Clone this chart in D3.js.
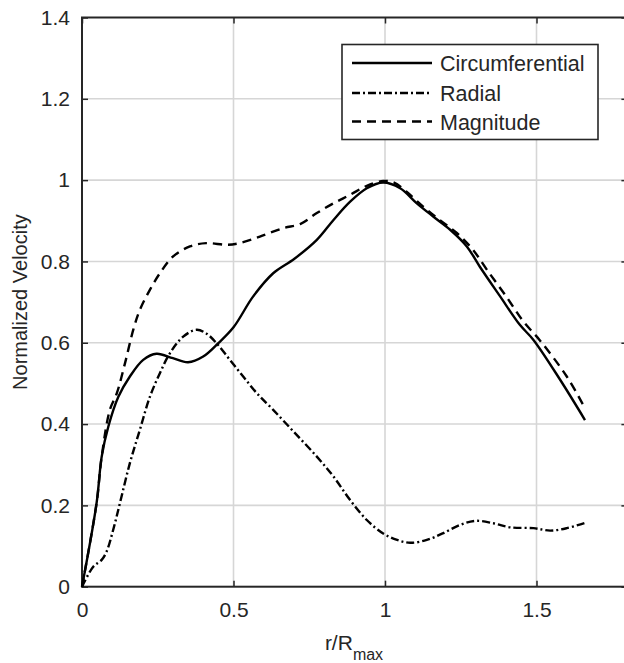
<!DOCTYPE html>
<html>
<head>
<meta charset="utf-8">
<script src="https://cdn.jsdelivr.net/npm/d3@7"></script>
<style>
  html, body { margin: 0; padding: 0; background: #fff; }
  svg { display: block; font-family: "Liberation Sans", Arial, Helvetica, sans-serif; }
</style>
</head>
<body>
<svg id="chart" width="624" height="663"></svg>
<script>
// Radial position normalised by the radius of maximum wind, and velocity components
const circR   = [0, 0.048, 0.065, 0.087, 0.12, 0.158, 0.202, 0.246, 0.30, 0.35, 0.40, 0.45, 0.50, 0.565, 0.631, 0.70, 0.775, 0.83, 0.885, 0.94, 0.994, 1.05, 1.105, 1.16, 1.215, 1.27, 1.313, 1.38, 1.445, 1.49, 1.578, 1.66];
const circV   = [0, 0.205, 0.32, 0.394, 0.467, 0.517, 0.558, 0.573, 0.562, 0.552, 0.566, 0.599, 0.638, 0.714, 0.771, 0.806, 0.853, 0.902, 0.947, 0.98, 0.994, 0.98, 0.943, 0.91, 0.878, 0.837, 0.787, 0.714, 0.644, 0.607, 0.509, 0.41];

const radR    = [0, 0.037, 0.065, 0.081, 0.103, 0.125, 0.158, 0.191, 0.224, 0.257, 0.29, 0.334, 0.378, 0.41, 0.444, 0.488, 0.532, 0.577, 0.631, 0.70, 0.775, 0.83, 0.885, 0.94, 0.994, 1.04, 1.083, 1.138, 1.19, 1.248, 1.30, 1.358, 1.413, 1.49, 1.545, 1.60, 1.66];
const radV    = [0, 0.049, 0.066, 0.086, 0.14, 0.205, 0.304, 0.386, 0.467, 0.525, 0.574, 0.615, 0.632, 0.623, 0.599, 0.558, 0.517, 0.476, 0.435, 0.38, 0.32, 0.271, 0.213, 0.164, 0.131, 0.115, 0.108, 0.115, 0.131, 0.152, 0.162, 0.156, 0.146, 0.144, 0.138, 0.144, 0.157];

const magR    = [0, 0.048, 0.065, 0.092, 0.115, 0.142, 0.17, 0.191, 0.224, 0.257, 0.30, 0.356, 0.41, 0.478, 0.52, 0.587, 0.664, 0.72, 0.775, 0.83, 0.885, 0.94, 0.994, 1.03, 1.07, 1.126, 1.18, 1.237, 1.29, 1.336, 1.40, 1.457, 1.51, 1.60, 1.66];
const magV    = [0, 0.205, 0.32, 0.435, 0.476, 0.55, 0.634, 0.681, 0.73, 0.771, 0.812, 0.837, 0.845, 0.841, 0.845, 0.861, 0.882, 0.892, 0.919, 0.943, 0.964, 0.986, 0.998, 0.994, 0.972, 0.935, 0.902, 0.87, 0.829, 0.78, 0.714, 0.652, 0.607, 0.517, 0.439];

const seriesNames = ["Circumferential", "Radial", "Magnitude"];
const xTicks = [0, 0.5, 1, 1.5];
const yTicks = [0, 0.2, 0.4, 0.6, 0.8, 1, 1.2, 1.4];

const svg = d3.select("#chart");
const ink = "#262626";

const x = d3.scaleLinear().domain([0, 1.8]).range([82, 627.4]);
const y = d3.scaleLinear().domain([0, 1.4]).range([586.7, 17.5]);
const [x0, x1] = x.range();
const [y0, y1] = y.range();

// grid
const grid = svg.append("g").attr("stroke", "#d6d6d6").attr("stroke-width", 1.6);
grid.selectAll("line.gx").data(xTicks.filter(d => d > 0)).join("line")
  .attr("x1", d => x(d)).attr("x2", d => x(d)).attr("y1", y0).attr("y2", y1);
grid.selectAll("line.gy").data(yTicks.filter(d => d > 0 && d < 1.4)).join("line")
  .attr("x1", x0).attr("x2", x1).attr("y1", d => y(d)).attr("y2", d => y(d));

// axes with inward ticks on all four sides
const fmt = d => d3.format("")(+d.toFixed(1));
function styleAxis(g) {
  g.select(".domain").remove();
  g.selectAll(".tick line").attr("stroke", ink).attr("stroke-width", 1.5);
  g.selectAll(".tick text").attr("fill", ink).attr("font-size", 21)
    .attr("font-family", "Liberation Sans, Arial, sans-serif");
}
svg.append("g").attr("transform", `translate(0,${y0})`)
  .call(d3.axisBottom(x).tickValues(xTicks).tickSize(-6).tickPadding(15.5).tickFormat(fmt))
  .call(styleAxis);
svg.append("g").attr("transform", `translate(0,${y1})`)
  .call(d3.axisTop(x).tickValues(xTicks).tickSize(-6).tickFormat(""))
  .call(styleAxis);
svg.append("g").attr("transform", `translate(${x0},0)`)
  .call(d3.axisLeft(y).tickValues(yTicks).tickSize(-6).tickPadding(12).tickFormat(fmt))
  .call(styleAxis);
svg.append("g").attr("transform", `translate(${x1},0)`)
  .call(d3.axisRight(y).tickValues(yTicks).tickSize(-6).tickFormat(""))
  .call(styleAxis);

// frame
svg.append("rect").attr("x", x0).attr("y", y1).attr("width", x1 - x0).attr("height", y0 - y1)
  .attr("fill", "none").attr("stroke", ink).attr("stroke-width", 2);

// curves
const dashes = ["", "8,3,2,3", "9,6"];
const data = [d3.zip(circR, circV), d3.zip(radR, radV), d3.zip(magR, magV)];
const line = d3.line().x(d => x(d[0])).y(d => y(d[1])).curve(d3.curveCatmullRom.alpha(0.5));
svg.append("g").selectAll("path").data(data).join("path")
  .attr("d", line)
  .attr("fill", "none")
  .attr("stroke", "#000")
  .attr("stroke-width", 2.4)
  .attr("stroke-dasharray", (d, i) => dashes[i] || null);

// axis titles
const xl = svg.append("text").attr("x", 354).attr("y", 650).attr("text-anchor", "middle")
  .attr("font-size", 21).attr("fill", ink);
xl.append("tspan").text("r/R");
xl.append("tspan").attr("font-size", 16).attr("dy", 10).text("max");

svg.append("text").attr("transform", `translate(27,${(y0 + y1) / 2}) rotate(-90)`)
  .attr("text-anchor", "middle").attr("font-size", 20).attr("fill", ink)
  .text("Normalized Velocity");

// legend
const lg = svg.append("g");
lg.append("rect").attr("x", 342).attr("y", 44.5).attr("width", 256).attr("height", 95)
  .attr("fill", "#fff").attr("stroke", ink).attr("stroke-width", 1.6);
const rows = [63, 93, 121.5];
seriesNames.forEach((name, i) => {
  lg.append("line").attr("x1", 352).attr("x2", 432).attr("y1", rows[i]).attr("y2", rows[i])
    .attr("stroke", "#000").attr("stroke-width", 2.4)
    .attr("stroke-dasharray", dashes[i] || null);
  lg.append("text").attr("x", 440).attr("y", rows[i] + 8).attr("font-size", 21.5)
    .attr("fill", ink).text(name);
});
</script>
</body>
</html>
